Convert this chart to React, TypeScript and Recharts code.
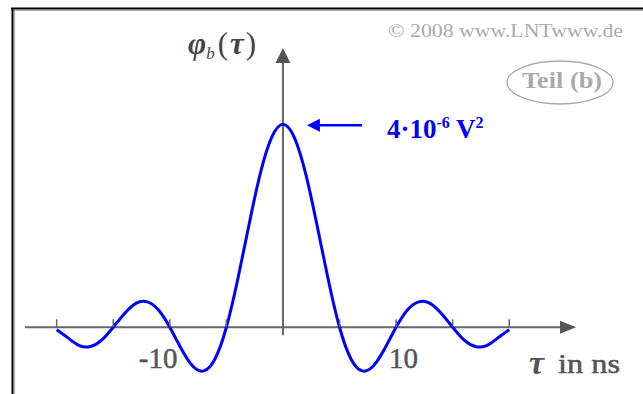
import {
  ComposedChart,
  Line,
  XAxis,
  YAxis,
  ReferenceLine,
  ReferenceDot,
} from 'recharts';

// lag τ in ns
const tauNs = [
  -20, -19, -18, -17, -16, -15, -14, -13, -12, -11, -10, -9, -8, -7, -6, -5, -4, -3, -2, -1,
  0, 1, 2, 3, 4, 5, 6, 7, 8, 9, 10, 11, 12, 13, 14, 15, 16, 17, 18, 19, 20,
];
// φ_b(τ) in 10^-6 V²
const phiB = [
  -0.05, -0.21, -0.36, -0.38, -0.25, 0, 0.27, 0.47, 0.5, 0.34, 0, -0.42, -0.76, -0.86, -0.62, 0, 0.94, 2.02, 3.03, 3.74,
  4.0, 3.74, 3.03, 2.02, 0.94, 0, -0.62, -0.86, -0.76, -0.42, 0, 0.34, 0.5, 0.47, 0.27, 0, -0.25, -0.38, -0.36, -0.21, -0.05,
];
const tickNs = [-20, -15, -10, -5, 5, 10, 15, 20];
const labeledTicks = ['-10', '10'];
const peakValue = 4;

const data = tauNs.map((tau, i) => ({ tau, phi: phiB[i] }));

const AXIS = '#666';
const TEXT = '#555';
const BLUE = '#0000ff';
const SERIF = '"Liberation Serif", "DejaVu Serif", serif';

function HorizontalAxis(p: any) {
  const x1 = Math.min(p.x1, p.x2);
  const x2 = Math.max(p.x1, p.x2);
  const y = p.y1;
  return (
    <g>
      <line x1={x1} y1={y} x2={x2 - 10} y2={y} stroke={AXIS} strokeWidth={2} />
      <polygon points={`${x2},${y} ${x2 - 16},${y - 6.5} ${x2 - 16},${y + 6.5}`} fill="#555" />
    </g>
  );
}

function VerticalAxis(p: any) {
  const yTop = Math.min(p.y1, p.y2);
  const yBot = Math.max(p.y1, p.y2);
  const x = p.x1;
  return (
    <g>
      <line x1={x} y1={yBot} x2={x} y2={yTop + 10} stroke={AXIS} strokeWidth={2} />
      <polygon points={`${x},${yTop} ${x - 7.5},${yTop + 15} ${x + 7.5},${yTop + 15}`} fill="#555" />
    </g>
  );
}

function TickMark(p: any) {
  const label = String(p.tick);
  const hasLabel = labeledTicks.includes(label);
  return (
    <g>
      <line x1={p.cx} y1={p.cy} x2={p.cx} y2={p.cy - 8} stroke={AXIS} strokeWidth={1.5} />
      {hasLabel && (
        <text
          x={p.tick < 0 ? p.cx - 31 : p.cx - 7}
          y={p.cy + 41}
          fontFamily={SERIF}
          fontSize={29}
          fill={TEXT}
          stroke={TEXT}
          strokeWidth={0.5}
        >
          {label}
        </text>
      )}
    </g>
  );
}

function PeakNote(p: any) {
  const y = p.cy + 1;
  return (
    <g>
      <line x1={p.cx + 34} y1={y} x2={p.cx + 79} y2={y} stroke={BLUE} strokeWidth={2.5} />
      <polygon points={`${p.cx + 24},${y} ${p.cx + 37},${y - 6.5} ${p.cx + 37},${y + 6.5}`} fill={BLUE} />
      <text
        x={p.cx + 104}
        y={p.cy + 14}
        fontFamily={SERIF}
        fontWeight="bold"
        fontSize={27}
        fill={BLUE}
      >
        4·10
        <tspan fontSize={16} dy={-10}>-6</tspan>
        <tspan dy={10}> V</tspan>
        <tspan fontSize={16} dy={-10}>2</tspan>
      </text>
    </g>
  );
}

export default function App() {
  return (
    <div style={{ position: 'absolute', left: 0, top: 0, width: 643, height: 394, background: '#fff' }}>
      <ComposedChart
        width={643}
        height={394}
        data={data}
        margin={{ top: 48, right: 67, bottom: 16, left: 25 }}
      >
        <XAxis type="number" dataKey="tau" domain={[-22.8, 25.9]} hide allowDataOverflow />
        <YAxis type="number" domain={[-1, 5.5]} hide allowDataOverflow />
        <ReferenceLine y={0} shape={HorizontalAxis} ifOverflow="visible" />
        <ReferenceLine
          segment={[{ x: 0, y: -0.16 }, { x: 0, y: 5.5 }]}
          shape={VerticalAxis}
          ifOverflow="visible"
        />
        {tickNs.map((t) => (
          <ReferenceDot
            key={t}
            x={t}
            y={0}
            r={0}
            ifOverflow="visible"
            shape={(p: any) => <TickMark {...p} tick={t} />}
          />
        ))}
        <Line
          type="natural"
          dataKey="phi"
          stroke={BLUE}
          strokeWidth={3}
          dot={false}
          isAnimationActive={false}
        />
        <ReferenceDot x={0} y={peakValue} r={0} ifOverflow="visible" shape={PeakNote} />
      </ComposedChart>

      <svg
        width={643}
        height={394}
        style={{ position: 'absolute', left: 0, top: 0, pointerEvents: 'none' }}
      >
        {/* frame */}
        <line x1={11} y1={10.5} x2={643} y2={10.5} stroke="#aaa" strokeWidth={1} />
        <line x1={14.5} y1={10} x2={14.5} y2={394} stroke="#aaa" strokeWidth={1} />
        <line x1={11} y1={8.5} x2={643} y2={8.5} stroke="#000" strokeWidth={2} />
        <line x1={12.5} y1={8} x2={12.5} y2={394} stroke="#000" strokeWidth={2} />

        <text x={388} y={37} fontFamily={SERIF} fontSize={19} fill="#aaa" textLength={235} lengthAdjust="spacingAndGlyphs">
          © 2008 www.LNTwww.de
        </text>

        <ellipse cx={560} cy={82.5} rx={53} ry={21.5} fill="none" stroke="#aaa" strokeWidth={1.3} />
        <text
          x={562}
          y={88}
          textAnchor="middle"
          fontFamily={SERIF}
          fontWeight="bold"
          fontSize={23}
          fill="#aaa"
          textLength={80}
          lengthAdjust="spacingAndGlyphs"
        >
          Teil (b)
        </text>

        <text x={188} y={54} fontFamily={SERIF} fontSize={31} fill="#444" fontWeight="bold" fontStyle="italic">
          φ
          <tspan fontSize={17} dy={5} fontWeight="normal">b</tspan>
          <tspan dy={-5} fontStyle="normal" fontWeight="normal" dx={3}>(</tspan>
          <tspan dx={2}>τ</tspan>
          <tspan fontStyle="normal" fontWeight="normal" dx={2}>)</tspan>
        </text>

        <text x={529} y={374} fontFamily={SERIF} fontSize={34} fill={TEXT} fontWeight="bold" fontStyle="italic">
          τ
        </text>
        <text
          x={558}
          y={373}
          fontFamily={SERIF}
          fontSize={27}
          fill={TEXT}
          stroke={TEXT}
          strokeWidth={0.5}
          textLength={62}
          lengthAdjust="spacingAndGlyphs"
        >
          in ns
        </text>
      </svg>
    </div>
  );
}
